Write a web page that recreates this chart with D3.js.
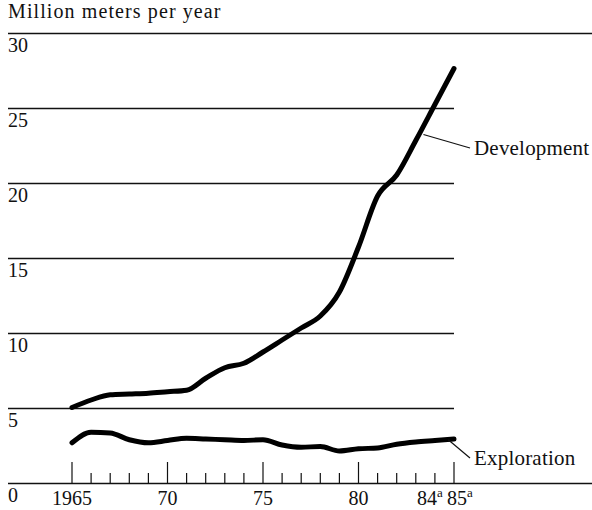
<!DOCTYPE html>
<html lang="en">
<head>
    <meta charset="UTF-8">
    <title>Drilling: Development and Exploration</title>
    <script src="https://d3js.org/d3.v7.min.js"></script>
</head>
<style>
   body {
		margin: 0;
		padding: 0;
		background: #fff;
	}
   text {font-family: "Liberation Serif", "DejaVu Serif", serif; fill: #111}
</style>
<body>
  <div id="chart"></div>

  <script>
    // data (million meters per year)
    const years = [1965, 1966, 1967, 1968, 1969, 1970, 1971, 1972, 1973, 1974, 1975,
                   1976, 1977, 1978, 1979, 1980, 1981, 1982, 1983, 1984, 1985];
    const development = [5.1, 5.6, 5.95, 6.0, 6.05, 6.15, 6.25, 7.05, 7.75, 8.05, 8.8,
                         9.6, 10.4, 11.2, 12.8, 15.8, 19.2, 20.6, 22.9, 25.3, 27.7];
    const exploration = [2.75, 3.45, 3.4, 2.95, 2.75, 2.9, 3.05, 3.0, 2.95, 2.9, 2.95,
                         2.6, 2.45, 2.5, 2.2, 2.35, 2.4, 2.65, 2.8, 2.9, 3.0];

    // tick labels
    const yTicks = [0, 5, 10, 15, 20, 25, 30];
    const xLabels = [
      {year: 1965, text: "1965", sup: ""},
      {year: 1970, text: "70", sup: ""},
      {year: 1975, text: "75", sup: ""},
      {year: 1980, text: "80", sup: ""},
      {year: 1984, text: "84", sup: "a"},
      {year: 1985, text: "85", sup: "a"}
    ];

    const width = 592, height = 510;

    const svg = d3.select("#chart")
      .append("svg")
        .attr("width", width)
        .attr("height", height);

    const x = d3.scaleLinear().domain([1965, 1985]).range([72, 454]);
    const y = d3.scaleLinear().domain([0, 30]).range([484, 34]);

    // y axis title
    svg.append("text")
      .attr("x", 8)
      .attr("y", 18)
      .style("font-size", "20px")
      .style("letter-spacing", "1.1px")
      .text("Million meters per year");

    // horizontal rules; top one and the base run to the right edge
    svg.selectAll("line.grid")
      .data(yTicks)
      .join("line")
        .attr("class", "grid")
        .attr("x1", 8)
        .attr("x2", d => (d === 0 || d === 30) ? width : x(1985))
        .attr("y1", d => y(d) - 0.5)
        .attr("y2", d => y(d) - 0.5)
        .attr("stroke", "#111")
        .attr("stroke-width", 1.4);

    // y labels sit under their rule
    svg.selectAll("text.ylab")
      .data(yTicks)
      .join("text")
        .attr("class", "ylab")
        .attr("x", 8)
        .attr("y", d => y(d) + 18)
        .style("font-size", "20px")
        .text(d => d);

    // year ticks, longer every fifth year
    svg.selectAll("line.xtick")
      .data(years)
      .join("line")
        .attr("class", "xtick")
        .attr("x1", d => x(d))
        .attr("x2", d => x(d))
        .attr("y1", d => d % 5 === 0 ? y(0) - 22 : y(0) - 11)
        .attr("y2", y(0))
        .attr("stroke", "#111")
        .attr("stroke-width", 1.2);

    const xl = svg.selectAll("text.xlab")
      .data(xLabels)
      .join("text")
        .attr("class", "xlab")
        .attr("x", d => x(d.year) + (d.year === 1984 ? -5 : d.year === 1985 ? 6 : 0))
        .attr("y", 505)
        .attr("text-anchor", "middle")
        .style("font-size", "20px");
    xl.append("tspan").text(d => d.text);
    xl.append("tspan")
      .attr("dy", -8)
      .style("font-size", "13px")
      .text(d => d.sup);

    // the two series
    const line = d3.line()
      .x(d => x(d[0]))
      .y(d => y(d[1]))
      .curve(d3.curveMonotoneX);

    [development, exploration].forEach(function(series) {
      svg.append("path")
        .datum(years.map((yr, i) => [yr, series[i]]))
        .attr("d", line)
        .attr("fill", "none")
        .attr("stroke", "#000")
        .attr("stroke-width", 5)
        .attr("stroke-linejoin", "round")
        .attr("stroke-linecap", "round");
    });

    // labels with leader lines
    const labels = [
      {name: "Development", year: 1983.4, value: 23.3, tx: 470, ty: 148},
      {name: "Exploration", year: 1984.7, value: 2.95, tx: 470, ty: 458}
    ];
    labels.forEach(function(l) {
      svg.append("line")
        .attr("x1", x(l.year))
        .attr("y1", y(l.value))
        .attr("x2", l.tx)
        .attr("y2", l.ty)
        .attr("stroke", "#111")
        .attr("stroke-width", 1.2);
      svg.append("text")
        .attr("x", l.tx + 4)
        .attr("y", l.ty + 7)
        .style("font-size", "21px")
        .style("letter-spacing", "0.2px")
        .text(l.name);
    });
  </script>
</body>
</html>
